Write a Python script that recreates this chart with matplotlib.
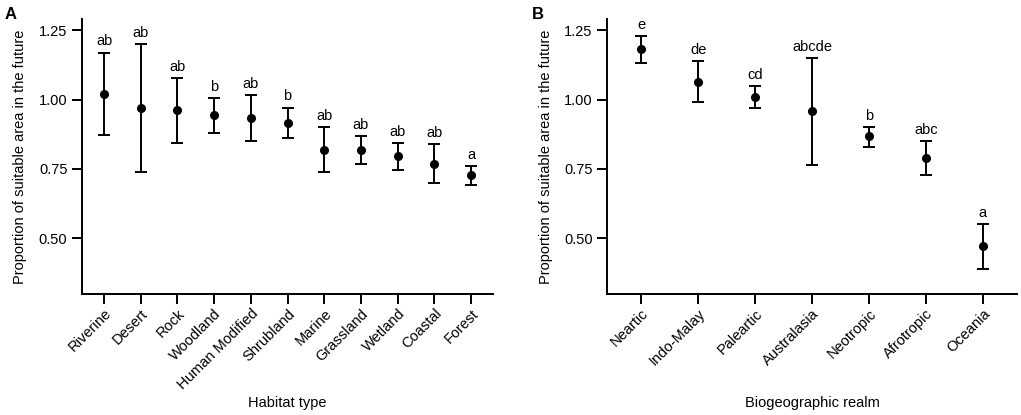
import matplotlib.pyplot as plt

plt.rcParams['font.family'] = ['Liberation Sans', 'DejaVu Sans']

# Panel A: habitat type
habitats = ['Riverine', 'Desert', 'Rock', 'Woodland', 'Human Modified', 'Shrubland',
            'Marine', 'Grassland', 'Wetland', 'Coastal', 'Forest']
hab_mean = [1.021, 0.971, 0.961, 0.943, 0.935, 0.915, 0.820, 0.819, 0.795, 0.768, 0.727]
hab_low = [0.874, 0.739, 0.844, 0.880, 0.850, 0.862, 0.738, 0.769, 0.748, 0.699, 0.692]
hab_high = [1.169, 1.201, 1.076, 1.004, 1.017, 0.971, 0.901, 0.868, 0.843, 0.839, 0.761]
hab_letters = ['ab', 'ab', 'ab', 'b', 'ab', 'b', 'ab', 'ab', 'ab', 'ab', 'a']

# Panel B: biogeographic realm
realms = ['Neartic', 'Indo-Malay', 'Paleartic', 'Australasia', 'Neotropic', 'Afrotropic', 'Oceania']
realm_mean = [1.181, 1.064, 1.008, 0.957, 0.867, 0.790, 0.471]
realm_low = [1.132, 0.990, 0.969, 0.765, 0.830, 0.729, 0.390]
realm_high = [1.230, 1.138, 1.048, 1.148, 0.902, 0.851, 0.552]
realm_letters = ['e', 'de', 'cd', 'abcde', 'b', 'abc', 'a']


def draw_panel(ax, names, mean, low, high, letters, xlabel):
    x = list(range(1, len(names) + 1))
    yerr = [[m - l for m, l in zip(mean, low)], [h - m for m, h in zip(mean, high)]]
    ax.errorbar(x, mean, yerr=yerr, fmt='o', color='black', ms=5.5,
                elinewidth=1.4, capsize=4.5, capthick=1.4)
    for xi, h, lab in zip(x, high, letters):
        ax.annotate(lab, (xi, h), xytext=(0, 3), textcoords='offset points',
                    ha='center', va='bottom', fontsize=10.5)
    ax.set_xlim(0.4, len(names) + 0.6)
    ax.set_ylim(0.30, 1.29)
    ax.set_yticks([0.50, 0.75, 1.00, 1.25])
    ax.set_yticklabels(['0.50', '0.75', '1.00', '1.25'])
    ax.set_xticks(x)
    ax.set_xticklabels(names, rotation=45, ha='right', va='top', rotation_mode='anchor')
    ax.tick_params(labelsize=10.5, width=1.4, length=7, color='black')
    ax.tick_params(axis='x', pad=2)
    for side in ['top', 'right']:
        ax.spines[side].set_visible(False)
    for side in ['left', 'bottom']:
        ax.spines[side].set_linewidth(1.4)
    ax.set_xlabel(xlabel, fontsize=10.5)
    ax.set_ylabel('Proportion of suitable area in the future', fontsize=10.5)
    ax.xaxis.set_label_coords(0.5, -0.37)
    ax.yaxis.set_label_coords(-0.133, 0.5)


fig = plt.figure(figsize=(10.21, 4.15), dpi=100)
axA = fig.add_axes([0.0803, 0.2916, 0.4026, 0.6626])
axB = fig.add_axes([0.5948, 0.2916, 0.4012, 0.6626])

draw_panel(axA, habitats, hab_mean, hab_low, hab_high, hab_letters, 'Habitat type')
draw_panel(axB, realms, realm_mean, realm_low, realm_high, realm_letters, 'Biogeographic realm')

fig.text(5 / 1021, 1 - 7 / 415, 'A', fontsize=12, fontweight='bold', ha='left', va='top')
fig.text(532 / 1021, 1 - 7 / 415, 'B', fontsize=12, fontweight='bold', ha='left', va='top')

fig.savefig('out.png', dpi=100)
